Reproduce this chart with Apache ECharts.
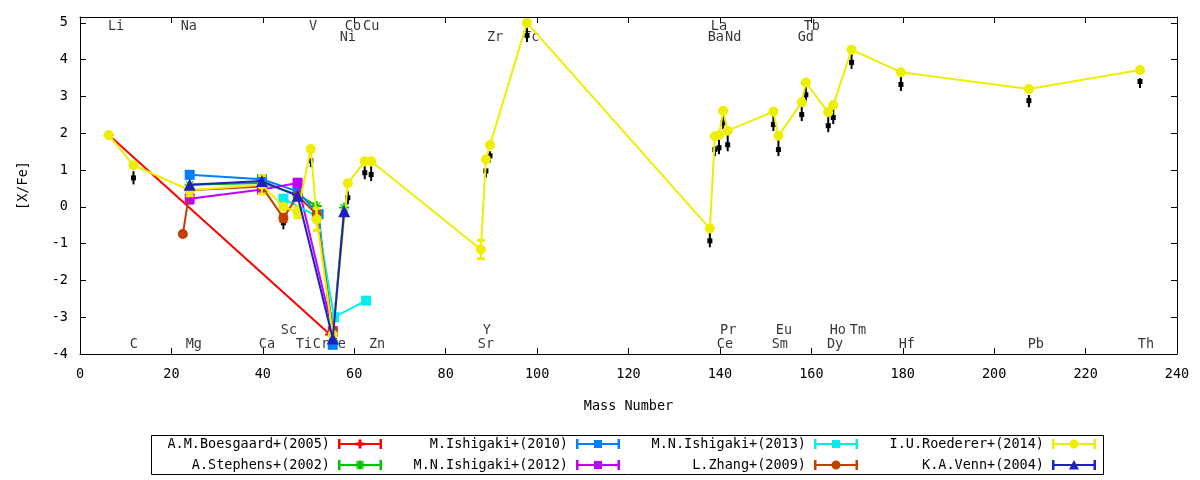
<!DOCTYPE html>
<html>
<head>
<meta charset="utf-8">
<script src="https://cdn.jsdelivr.net/npm/echarts@6/dist/echarts.min.js"></script>
<style>
  html, body { margin: 0; padding: 0; background: #fff; }
  #main { width: 1200px; height: 480px; }
</style>
</head>
<body>
<div id="main"></div>
<script>
var chart = echarts.init(document.getElementById('main'));

var FONT = '"DejaVu Sans Mono", monospace';

// ---- data: mass number / [X/Fe] per reference ----
var boesgaardX = [6.3, 54.7];
var boesgaardY = [1.95, -3.47];
var boesgaardErr = [0, 0];

var stephensX = [24.0, 39.8, 47.6, 51.8, 55.3, 57.8];
var stephensY = [0.6, 0.65, 0.33, 0.02, -3.5, -0.02];
var stephensErr = [0, 0, 0, 0, 0, 0];

var ishigaki10X = [24.0, 39.8, 47.6, 52.2, 55.3];
var ishigaki10Y = [0.87, 0.75, 0.42, -0.2, -3.75];
var ishigaki10Err = [0, 0, 0, 0, 0];

var ishigaki12X = [24.0, 39.8, 47.6, 55.3];
var ishigaki12Y = [0.22, 0.47, 0.65, -3.38];
var ishigaki12Err = [0.12, 0.06, 0.1, 0];

var ishigaki13X = [44.5, 51.8, 55.6, 62.6];
var ishigaki13Y = [0.22, -0.25, -3.0, -2.55];
var ishigaki13Err = [0, 0, 0, 0];

var zhangX = [22.5, 24.0, 39.8, 44.5, 47.6, 51.8, 55.3];
var zhangY = [-0.74, 0.45, 0.55, -0.3, 0.3, -0.2, -3.35];
var zhangErr = [0, 0, 0, 0.1, 0, 0, 0];

var roedererX = [6.3, 11.7, 24.0, 39.8, 44.5, 47.6, 50.5, 51.8, 55.3, 58.6, 62.3, 63.7,
                 87.7, 88.8, 89.7, 97.8, 137.8, 138.9, 139.8, 140.7, 141.7, 151.7, 152.8,
                 157.9, 158.8, 163.7, 164.8, 168.8, 179.6, 207.6, 231.9];
var roedererY = [1.95, 1.13, 0.45, 0.6, 0.0, -0.15, 1.57, -0.34, -3.47, 0.64, 1.24, 1.24,
                 -1.16, 1.29, 1.68, 5.0, -0.59, 1.92, 1.95, 2.61, 2.07, 2.59, 1.93,
                 2.84, 3.38, 2.57, 2.77, 4.27, 3.66, 3.2, 3.72];
var roedererErr = [0, 0, 0.15, 0.25, 0, 0.15, 0, 0.3, 0, 0, 0, 0,
                   0.25, 0, 0, 0, 0, 0, 0, 0, 0, 0, 0,
                   0, 0, 0, 0, 0, 0, 0, 0];

var vennX = [24.0, 39.8, 47.6, 55.3, 57.8];
var vennY = [0.6, 0.7, 0.3, -3.58, -0.12];
var vennErr = [0, 0, 0, 0, 0];

// black upper-limit arrows under the Roederer points
var arrowX = [11.7, 44.5, 50.5, 58.6, 62.3, 63.7, 88.8, 89.7, 97.8, 137.8, 138.9, 139.8,
              140.7, 141.7, 151.7, 152.8, 157.9, 158.8, 163.7, 164.8, 168.8, 179.6, 207.6, 231.9];
var arrowTop = [0.97, -0.48, 1.29, 0.42, 1.1, 1.1, 1.02, 1.51, 4.9, -0.7, 1.65, 1.84,
                2.47, 1.98, 2.47, 1.84, 2.74, 3.28, 2.47, 2.66, 4.16, 3.53, 3.04, 3.5];
var arrowBot = [0.61, -0.61, 1.08, 0.07, 0.75, 0.7, 0.8, 1.21, 4.48, -1.1, 1.38, 1.43,
                2.11, 1.51, 2.06, 1.38, 2.33, 2.87, 2.03, 2.25, 3.75, 3.15, 2.71, 3.23];

// element labels
var elemNames = ['Li', 'Na', 'V', 'Co', 'Cu', 'La', 'Tb',
                 'Ni', 'Zr', 'Tc', 'Ba', 'Nd', 'Gd',
                 'C', 'Mg', 'Ca', 'Ti', 'Cr', 'Fe', 'Zn', 'Sr', 'Ce', 'Sm', 'Dy', 'Hf', 'Pb', 'Th',
                 'Sc', 'Y', 'Pr', 'Eu', 'Ho', 'Tm'];
var elemX = [7.9, 23.8, 51.0, 59.7, 63.7, 139.8, 160.1,
             58.6, 90.8, 98.7, 139.1, 142.9, 158.8,
             11.8, 24.9, 40.9, 49.0, 52.7, 56.4, 65.0, 88.8, 141.1, 153.1, 165.2, 180.9, 209.1, 233.2,
             45.7, 89.0, 141.8, 154.0, 165.8, 170.2];
var elemY = [4.89, 4.89, 4.89, 4.89, 4.89, 4.89, 4.89,
             4.61, 4.61, 4.61, 4.61, 4.61, 4.61,
             -3.75, -3.75, -3.75, -3.75, -3.75, -3.75, -3.75, -3.75, -3.75, -3.75, -3.75, -3.75, -3.75, -3.75,
             -3.37, -3.37, -3.37, -3.37, -3.37, -3.37];

var xTicks = [0, 240, 20];
var yTicks = [-4, 5.16, 1];

// ---- symbols ----
var SYM_PLUS = 'path://M4,0h2v10h-2z M0,4h10v2h-10z';
var SYM_STAR = 'path://M4,0h2v10h-2z M0,4h10v2h-10z M1,1.7L1.7,1L9,8.3L8.3,9z M8.3,1L9,1.7L1.7,9L1,8.3z';

var BAR = 'M0,4h44v2h-44z M0,0h2.5v10h-2.5z M41.5,0h2.5v10h-2.5z ';
var ICON = {
  plus: 'path://' + BAR + 'M20.5,0.5h3v9h-3z M17.5,3.5h9v3h-9z',
  star: 'path://' + BAR + 'M20.5,0.5h3v9h-3z M17.5,3.5h9v3h-9z M18,1.5L19,0.5L26,8.5L25,9.5z M25,0.5L26,1.5L19,9.5L18,8.5z',
  square: 'path://' + BAR + 'M18,1h8v8h-8z',
  circle: 'path://' + BAR + 'M26.5,5a4.5,4.5 0 1,1 -9,0a4.5,4.5 0 1,1 9,0z',
  triangle: 'path://' + BAR + 'M22,0L27,9.5L17,9.5z'
};

var datasets = [
  { name: 'A.M.Boesgaard+(2005)', color: '#ff0000', symbol: SYM_PLUS, size: 10, icon: 'plus', x: boesgaardX, y: boesgaardY, e: boesgaardErr },
  { name: 'A.Stephens+(2002)', color: '#00c000', symbol: SYM_STAR, size: 10, icon: 'star', x: stephensX, y: stephensY, e: stephensErr },
  { name: 'M.Ishigaki+(2010)', color: '#0080ff', symbol: 'rect', size: 10, icon: 'square', x: ishigaki10X, y: ishigaki10Y, e: ishigaki10Err },
  { name: 'M.N.Ishigaki+(2012)', color: '#c000ff', symbol: 'rect', size: 10, icon: 'square', x: ishigaki12X, y: ishigaki12Y, e: ishigaki12Err },
  { name: 'M.N.Ishigaki+(2013)', color: '#00eeee', symbol: 'rect', size: 10, icon: 'square', x: ishigaki13X, y: ishigaki13Y, e: ishigaki13Err },
  { name: 'L.Zhang+(2009)', color: '#c04000', symbol: 'circle', size: 10, icon: 'circle', x: zhangX, y: zhangY, e: zhangErr },
  { name: 'I.U.Roederer+(2014)', color: '#eeee00', symbol: 'circle', size: 10, icon: 'circle', x: roedererX, y: roedererY, e: roedererErr },
  { name: 'K.A.Venn+(2004)', color: '#2020c0', symbol: 'triangle', size: 12, icon: 'triangle', x: vennX, y: vennY, e: vennErr }
];

// legend slots: [right offset of icon, top]
var legendSlots = [
  [818, 437], [818, 458],
  [580, 437], [580, 458],
  [342, 437], [342, 458],
  [104, 437], [104, 458]
];

function errRenderer(color) {
  return function (params, api) {
    var x = api.value(0), y = api.value(1), e = api.value(2);
    var top = api.coord([x, y + e]);
    var bot = api.coord([x, y - e]);
    var c = 4;
    return {
      type: 'group',
      children: [
        { type: 'line', shape: { x1: top[0], y1: top[1], x2: bot[0], y2: bot[1] }, style: { stroke: color, lineWidth: 2 } },
        { type: 'line', shape: { x1: top[0] - c, y1: top[1], x2: top[0] + c, y2: top[1] }, style: { stroke: color, lineWidth: 3 } },
        { type: 'line', shape: { x1: bot[0] - c, y1: bot[1], x2: bot[0] + c, y2: bot[1] }, style: { stroke: color, lineWidth: 3 } }
      ]
    };
  };
}

var series = [];

// element labels (drawn first, under data)
series.push({
  type: 'scatter',
  name: 'labels',
  silent: true,
  z: 1,
  symbolSize: 1,
  itemStyle: { color: 'transparent' },
  label: {
    show: true,
    position: 'inside',
    formatter: function (p) { return p.data.name; },
    color: '#000',
    fontFamily: FONT,
    fontSize: 13.5
  },
  data: elemNames.map(function (n, i) { return { name: n, value: [elemX[i], elemY[i]] }; })
});

// black arrows
series.push({
  type: 'custom',
  name: 'limits',
  silent: true,
  z: 8,
  renderItem: function (params, api) {
    var x = api.value(0);
    var t = api.coord([x, api.value(1)]);
    var b = api.coord([x, api.value(2)]);
    return {
      type: 'group',
      children: [
        { type: 'line', shape: { x1: t[0], y1: t[1], x2: b[0], y2: b[1] }, style: { stroke: '#000', lineWidth: 2 } },
        { type: 'rect', shape: { x: b[0] - 2.5, y: b[1] - 9, width: 5, height: 5 }, style: { fill: '#000' } }
      ]
    };
  },
  data: arrowX.map(function (x, i) { return [x, arrowTop[i], arrowBot[i]]; })
});

datasets.forEach(function (d, k) {
  series.push({
    type: 'line',
    name: d.name,
    z: 10 + k,
    data: d.x.map(function (x, i) { return [x, d.y[i]]; }),
    symbol: d.symbol,
    symbolSize: d.size,
    showSymbol: true,
    lineStyle: { color: d.color, width: 2 },
    itemStyle: { color: d.color },
    emphasis: { disabled: true }
  });
  var errData = [];
  d.x.forEach(function (x, i) { if (d.e[i] > 0) errData.push([x, d.y[i], d.e[i]]); });
  if (errData.length) {
    series.push({
      type: 'custom',
      name: d.name + ' err',
      silent: true,
      z: 10 + k,
      renderItem: errRenderer(d.color),
      data: errData
    });
  }
});

var legends = datasets.map(function (d, j) {
  return {
    data: [d.name],
    right: legendSlots[j][0],
    top: legendSlots[j][1],
    orient: 'horizontal',
    align: 'right',
    padding: 0,
    itemWidth: 44,
    itemHeight: 10,
    itemGap: 0,
    icon: ICON[d.icon],
    selectedMode: false,
    itemStyle: { borderWidth: 0 },
    textStyle: { fontFamily: FONT, fontSize: 13.5, color: '#000', padding: [0, 3, 0, 0] }
  };
});

function axisCommon() {
  return {
    axisLine: { onZero: false, lineStyle: { color: '#000', width: 1 } },
    axisTick: { inside: true, length: 6, lineStyle: { color: '#000' } },
    splitLine: { show: false }
  };
}

var option = {
  animation: false,
  backgroundColor: '#fff',
  grid: { left: 80, right: 23, top: 17, bottom: 126 },
  legend: legends,
  graphic: [{
    type: 'rect',
    shape: { x: 151.5, y: 435.5, width: 952, height: 39 },
    style: { fill: 'none', stroke: '#000', lineWidth: 1 },
    silent: true
  }],
  xAxis: [
    Object.assign({
      type: 'value', position: 'bottom', min: xTicks[0], max: xTicks[1], interval: xTicks[2],
      name: 'Mass Number', nameLocation: 'middle', nameGap: 45,
      nameTextStyle: { fontFamily: FONT, fontSize: 13.5, color: '#000' },
      axisLabel: { fontFamily: FONT, fontSize: 13.5, color: '#000', margin: 13 }
    }, axisCommon()),
    Object.assign({
      type: 'value', position: 'top', min: xTicks[0], max: xTicks[1], interval: xTicks[2],
      axisLabel: { show: false }
    }, axisCommon())
  ],
  yAxis: [
    Object.assign({
      type: 'value', position: 'left', min: yTicks[0], max: yTicks[1], interval: yTicks[2],
      name: '[X/Fe]', nameLocation: 'middle', nameGap: 50, nameRotate: 90,
      nameTextStyle: { fontFamily: FONT, fontSize: 13.5, color: '#000' },
      axisLabel: {
        fontFamily: FONT, fontSize: 13.5, color: '#000', margin: 12,
        showMaxLabel: false,
        formatter: function (v) { return Math.abs(v - Math.round(v)) < 1e-6 ? String(Math.round(v)) : ''; }
      }
    }, axisCommon()),
    Object.assign({
      type: 'value', position: 'right', min: yTicks[0], max: yTicks[1], interval: yTicks[2],
      axisLabel: { show: false }
    }, axisCommon())
  ],
  series: series
};

chart.setOption(option);
</script>
</body>
</html>
